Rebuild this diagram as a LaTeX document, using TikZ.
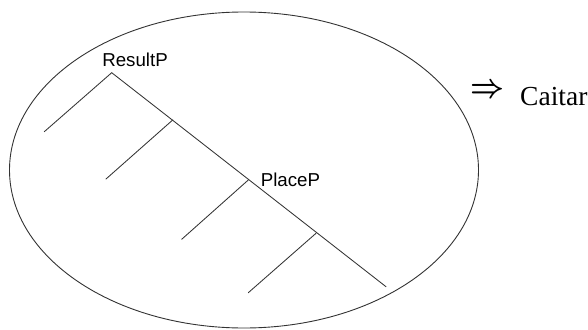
\documentclass[tikz,border=0pt]{standalone}
\usepackage{fontspec}
\setmainfont{Liberation Serif}
\setsansfont{Liberation Sans}
\usepackage{graphicx}
\usetikzlibrary{positioning}

\begin{document}
\begin{tikzpicture}[x=1pt,y=-1pt,
  branch/.style={line width=0.85pt,black!80,line cap=round},
  lbl/.style={font=\sffamily\fontsize{18.7}{20}\selectfont,anchor=base,inner sep=0pt}]
\useasboundingbox (0,0) rectangle (588,329);

\draw[line width=0.9pt,black!80] (244,170) ellipse (234.5 and 158);

\coordinate (resultp) at (111.7,72.7);
\coordinate (leftend) at (44.3,131.7);
\coordinate (mainend) at (386,286.7);
\coordinate (j1) at (172.7,120);
\coordinate (j1end) at (106,179);
\coordinate (placep) at (248.3,180);
\coordinate (j2end) at (181.7,239.3);
\coordinate (j3) at (316,233.3);
\coordinate (j3end) at (248.3,292.7);

\draw[branch] (resultp) -- (mainend);
\draw[branch] (resultp) -- (leftend);
\draw[branch] (j1) -- (j1end);
\draw[branch] (placep) -- (j2end);
\draw[branch] (j3) -- (j3end);

\node[lbl] (resultlbl) at (135,66.7) {ResultP};
\node[lbl] (placelbl) at (290.4,186) {PlaceP};

\node[inner sep=0pt] (impl) at (487,91) {\resizebox{34pt}{13pt}{\boldmath$\Rightarrow$}};
\node[anchor=base west,inner sep=0pt,font=\fontsize{27.5}{30}\selectfont] (caitar) at (520,105.7) {Caitar};
\end{tikzpicture}
\end{document}
